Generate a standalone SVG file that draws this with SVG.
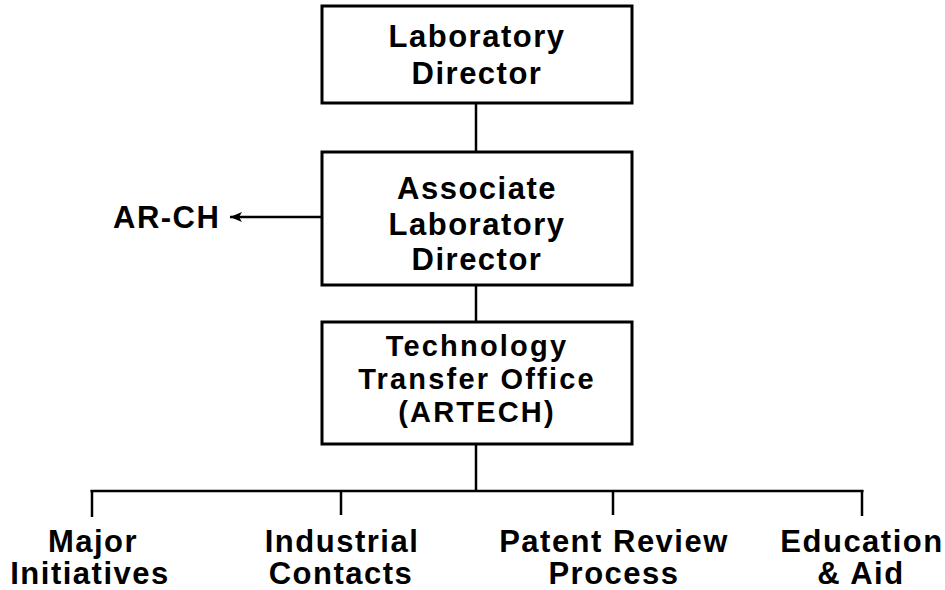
<svg xmlns="http://www.w3.org/2000/svg" width="945" height="590" viewBox="0 0 945 590">
<style>
.box{fill:#fff;stroke:#000;stroke-width:3}
.t{font-family:"Liberation Sans",Arial,sans-serif;font-weight:bold;font-size:31px;letter-spacing:1.5px;fill:#000;text-anchor:middle}
.s{font-size:29px;letter-spacing:2.2px}
.ln{stroke:#000;stroke-width:2.5;fill:none}
</style>
<defs>
<marker id="ah" viewBox="0 0 12 10" refX="12" refY="5" markerWidth="12" markerHeight="10" markerUnits="userSpaceOnUse" orient="auto">
<path d="M0,0 L12,5 L0,10 L3,5 Z" fill="#000"/>
</marker>
</defs>
<rect width="945" height="590" fill="#fff"/>
<g id="connectors">
<line class="ln" x1="476" y1="103" x2="476" y2="152"/>
<line class="ln" x1="476" y1="285" x2="476" y2="322"/>
<line class="ln" x1="321" y1="217" x2="230" y2="217" marker-end="url(#ah)"/>
<line class="ln" x1="476" y1="444" x2="476" y2="491"/>
<line class="ln" x1="90.5" y1="491" x2="863.5" y2="491" stroke-width="3"/>
<line class="ln" x1="92" y1="490" x2="92" y2="517" stroke-width="3"/>
<line class="ln" x1="341" y1="491" x2="341" y2="515"/>
<line class="ln" x1="613" y1="491" x2="613" y2="515"/>
<line class="ln" x1="862" y1="490" x2="862" y2="516" stroke-width="3"/>
</g>
<g id="lab-director">
<rect class="box" x="322" y="6" width="310" height="97"/>
<text class="t" x="477" y="47">Laboratory</text>
<text class="t" x="477" y="84">Director</text>
</g>
<g id="assoc-director">
<rect class="box" x="322" y="152" width="310" height="133"/>
<text class="t" x="477" y="199">Associate</text>
<text class="t" x="477" y="235">Laboratory</text>
<text class="t" x="477" y="270">Director</text>
</g>
<g id="ar-ch">
<text class="t" x="113" y="228" style="text-anchor:start">AR-CH</text>
</g>
<g id="tto">
<rect class="box" x="322" y="322" width="310" height="122"/>
<text class="t s" x="477" y="356">Technology</text>
<text class="t s" x="477" y="389">Transfer Office</text>
<text class="t s" x="477" y="422">(ARTECH)</text>
</g>
<g id="major">
<text class="t" x="93" y="552">Major</text>
<text class="t" x="90" y="584">Initiatives</text>
</g>
<g id="industrial">
<text class="t" x="342" y="552">Industrial</text>
<text class="t" x="341" y="584">Contacts</text>
</g>
<g id="patent">
<text class="t" x="614" y="552">Patent Review</text>
<text class="t" x="614" y="584">Process</text>
</g>
<g id="education">
<text class="t" x="862" y="552">Education</text>
<text class="t" x="861" y="584">&amp; Aid</text>
</g>
</svg>
